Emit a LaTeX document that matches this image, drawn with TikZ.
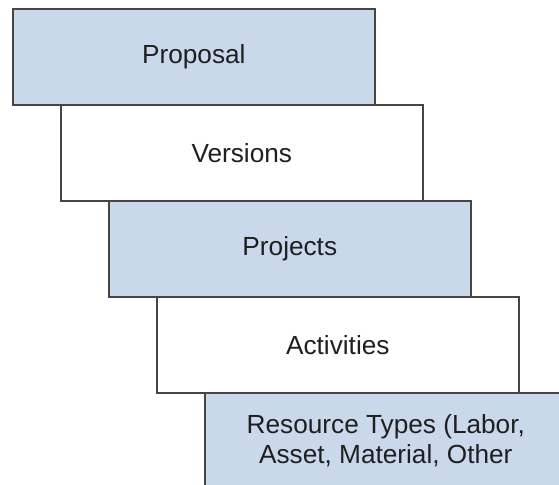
\documentclass[tikz,border=0pt]{standalone}
\usepackage{fontspec}
\setmainfont{Liberation Sans}
\definecolor{boxblue}{HTML}{CAD8EB}
\definecolor{boxline}{HTML}{454545}
\begin{document}
\begin{tikzpicture}[x=1bp,y=-1bp,
  tier/.style={draw=boxline, line width=1.6bp, anchor=north west,
    minimum width=362bp, minimum height=96bp, inner sep=0pt,
    align=center, font=\fontsize{26.3}{29.5}\selectfont, text=black!88},
  bluetier/.style={tier, fill=boxblue},
  whitetier/.style={tier, fill=white}]
\useasboundingbox (0,0) rectangle (559,485);
\clip (0,0) rectangle (559,485);
\node[bluetier]  (proposal)   at (12,8)   {Proposal};
\node[whitetier] (versions)   at (60,104) {Versions};
\node[bluetier]  (projects)   at (108,200) {Projects};
\node[whitetier] (activities) at (156,296) {Activities};
\node[bluetier]  (resources)  at (204,392) {Resource Types (Labor,\\Asset, Material, Other};
\end{tikzpicture}
\end{document}
